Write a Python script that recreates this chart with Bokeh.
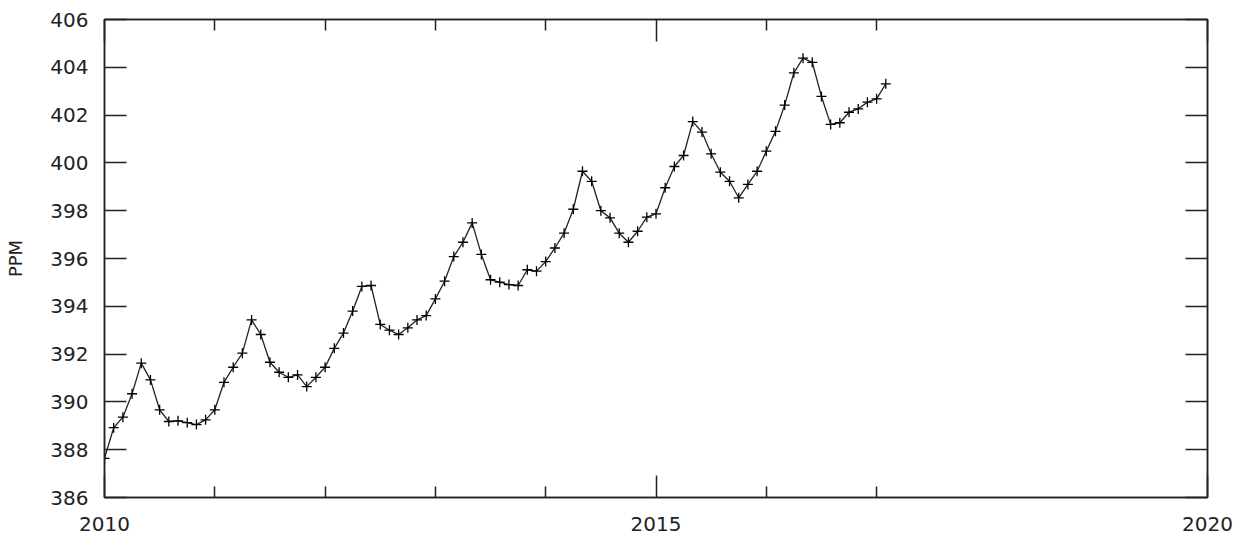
import numpy as np
from bokeh.plotting import figure
from bokeh.models import (Range1d, FixedTicker, LinearAxis, ColumnDataSource,
                          CustomJSTickFormatter)
from bokeh.embed import file_html
from bokeh.resources import INLINE

# Monthly mean CO2 concentration (ppm), January 2010 onwards
start_year = 2010
ppm = [
    387.64, 388.92, 389.36, 390.34, 391.62, 390.92, 389.67, 389.18, 389.21, 389.13, 389.05, 389.25,
    389.67, 390.82, 391.45, 392.04, 393.43, 392.82, 391.66, 391.24, 391.03, 391.13, 390.64, 391.03,
    391.45, 392.24, 392.88, 393.80, 394.83, 394.87, 393.24, 393.00, 392.82, 393.10, 393.43, 393.61,
    394.31, 395.05, 396.08, 396.68, 397.49, 396.17, 395.11, 395.01, 394.91, 394.87, 395.53, 395.47,
    395.87, 396.44, 397.06, 398.06, 399.65, 399.23, 398.00, 397.70, 397.06, 396.68, 397.14, 397.73,
    397.87, 398.96, 399.85, 400.31, 401.73, 401.29, 400.38, 399.61, 399.23, 398.54, 399.10, 399.65,
    400.49, 401.32, 402.42, 403.77, 404.38, 404.21, 402.78, 401.61, 401.68, 402.12, 402.26, 402.54,
    402.68, 403.31,
]
year = start_year + np.arange(len(ppm)) / 12.0

x_major = [2010, 2015, 2020]
x_minor = [2011, 2012, 2013, 2014, 2016, 2017]
y_ticks = list(range(386, 407, 2))

src = ColumnDataSource(dict(year=year, ppm=ppm))

INK = "#222222"
FONT = "DejaVu Sans"
blank = CustomJSTickFormatter(code="return ''")

p = figure(
    width=1239, height=538,
    x_range=Range1d(2010, 2020), y_range=Range1d(386, 406),
    output_backend="svg", toolbar_location=None,
    x_axis_location=None, y_axis_location=None,
    min_border_left=104, min_border_right=32,
    min_border_top=19, min_border_bottom=41,
)
p.xgrid.visible = False
p.ygrid.visible = False
p.outline_line_color = INK
p.outline_line_width = 1.5
p.background_fill_color = "white"
p.border_fill_color = "white"


def style_ticks(ax, major_in, minor_in):
    ax.major_tick_in = major_in
    ax.major_tick_out = 0
    ax.minor_tick_in = minor_in
    ax.minor_tick_out = 0
    ax.major_tick_line_color = INK
    ax.minor_tick_line_color = INK
    ax.major_tick_line_width = 1.5
    ax.minor_tick_line_width = 1.5
    ax.axis_line_color = INK
    ax.axis_line_width = 1.5


def style_labels(ax, standoff):
    ax.major_label_text_font = FONT
    ax.major_label_text_font_size = "20px"
    ax.major_label_text_color = INK
    ax.major_label_standoff = standoff


x_ticker = FixedTicker(ticks=x_major, minor_ticks=x_minor)
y_ticker = FixedTicker(ticks=y_ticks, minor_ticks=[])

bottom = LinearAxis(ticker=x_ticker)
style_ticks(bottom, 22, 11)
style_labels(bottom, 19)
p.add_layout(bottom, "below")

top = LinearAxis(ticker=x_ticker, formatter=blank, major_label_standoff=0)
style_ticks(top, 22, 11)
p.add_layout(top, "above")

left = LinearAxis(ticker=y_ticker, axis_label="PPM")
style_ticks(left, 22, 0)
style_labels(left, 16)
left.axis_label_text_font = FONT
left.axis_label_text_font_size = "18px"
left.axis_label_text_font_style = "normal"
left.axis_label_text_color = INK
left.axis_label_standoff = 21
p.add_layout(left, "left")

right = LinearAxis(ticker=y_ticker, formatter=blank, major_label_standoff=0)
style_ticks(right, 22, 0)
p.add_layout(right, "right")

p.line("year", "ppm", source=src, line_color=INK, line_width=1.3)
p.scatter("year", "ppm", source=src, marker="cross", size=10,
          line_color="black", line_width=1.3)

open("out.html", "w").write(file_html(p, INLINE))
